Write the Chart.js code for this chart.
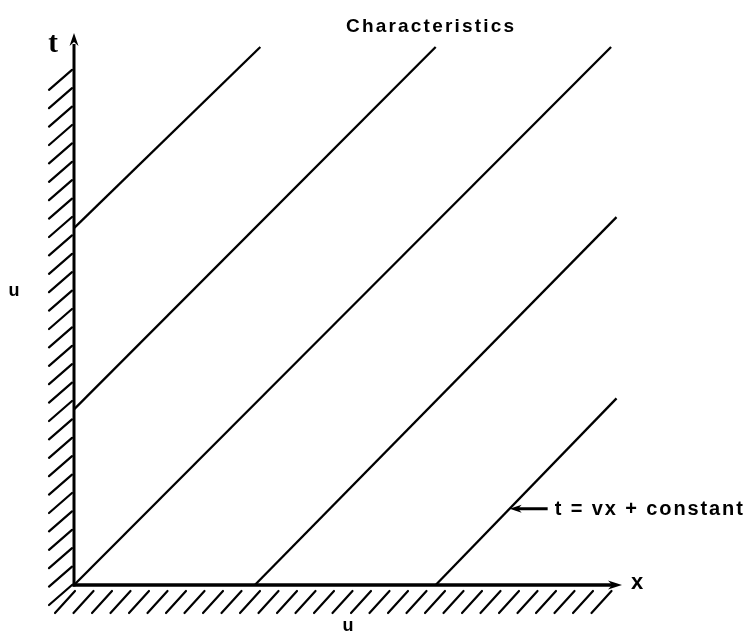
<!DOCTYPE html>
<html>
<head>
<meta charset="utf-8">
<title>Characteristics</title>
<script src="https://cdn.jsdelivr.net/npm/chart.js@4/dist/chart.umd.min.js"></script>
<style>
  html, body { margin: 0; padding: 0; background: #fff; }
  #wrap { width: 751px; height: 634px; }
</style>
</head>
<body>
<div id="wrap"><canvas id="c" width="751" height="634"></canvas></div>
<script>
// Characteristic lines t = v x + constant, each given by its two end points (x, t).
const lineNames = ['c1', 'c2', 'c3', 'c4', 'c5'];
const startX = [0, 0, 0, 3.3, 6.6];
const startT = [6.5, 3.2, 0, 0, 0];
const endX   = [3.4, 6.6, 9.8, 9.9, 9.9];
const endT   = [9.8, 9.8, 9.8, 6.7, 3.4];

// Axis extents (data units)
const xMax = 10;
const tMax = 10;

// Texts
const titleText = 'Characteristics';
const tLabel = 't';
const xLabel = 'x';
const sideLabel = 'u';
const bottomLabel = 'u';
const noteText = 't = vx + constant';
const noteLine = 4;      // index of the characteristic the note points at
const noteAtX = 7.95;    // where along x the note arrow touches it

const datasets = lineNames.map((name, i) => ({
  label: name,
  data: [{ x: startX[i], y: startT[i] }, { x: endX[i], y: endT[i] }],
  showLine: true,
  borderColor: '#000',
  borderWidth: 2.3,
  pointRadius: 0,
  tension: 0,
  clip: false
}));

function arrowHead(ctx, tipX, tipY, dirX, dirY, len, half) {
  const px = -dirY, py = dirX;
  ctx.beginPath();
  ctx.moveTo(tipX, tipY);
  ctx.lineTo(tipX - dirX * len + px * half, tipY - dirY * len + py * half);
  ctx.lineTo(tipX - dirX * len * 0.7, tipY - dirY * len * 0.7);
  ctx.lineTo(tipX - dirX * len - px * half, tipY - dirY * len - py * half);
  ctx.closePath();
  ctx.fill();
}

function spacedText(ctx, text, x, y, spacing) {
  if ('letterSpacing' in ctx) {
    ctx.letterSpacing = spacing + 'px';
    ctx.fillText(text, x, y);
    ctx.letterSpacing = '0px';
  } else {
    let cx = x;
    for (const ch of text) {
      ctx.fillText(ch, cx, y);
      cx += ctx.measureText(ch).width + spacing;
    }
  }
}

const figureDecor = {
  id: 'figureDecor',
  afterDraw(chart) {
    const ctx = chart.ctx;
    const xs = chart.scales.x, ys = chart.scales.y;
    const ox = xs.getPixelForValue(0), oy = ys.getPixelForValue(0);
    const xEnd = xs.getPixelForValue(xMax), tEnd = ys.getPixelForValue(tMax);
    ctx.save();
    ctx.strokeStyle = '#000';
    ctx.fillStyle = '#000';
    ctx.lineCap = 'round';

    // wall hatching left of the t axis
    ctx.lineWidth = 2.2;
    ctx.beginPath();
    for (let y = oy; y >= tEnd + 18; y -= 18.4) {
      ctx.moveTo(ox - 25, y + 20);
      ctx.lineTo(ox - 2, y);
    }
    // hatching below the x axis
    for (let x = ox - 19; x <= xEnd - 30; x += 18.5) {
      ctx.moveTo(x, oy + 28);
      ctx.lineTo(x + 20, oy + 6);
    }
    ctx.stroke();

    // axes
    ctx.lineCap = 'butt';
    ctx.lineWidth = 3;
    ctx.beginPath();
    ctx.moveTo(ox, oy + 1.5);
    ctx.lineTo(ox, tEnd + 8);
    ctx.stroke();
    ctx.lineWidth = 3.5;
    ctx.beginPath();
    ctx.moveTo(ox - 1.5, oy);
    ctx.lineTo(xEnd - 8, oy);
    ctx.stroke();
    arrowHead(ctx, ox, tEnd - 3, 0, -1, 13, 4.5);
    arrowHead(ctx, xEnd, oy, 1, 0, 14, 4.5);

    // axis letters
    ctx.textBaseline = 'middle';
    ctx.textAlign = 'center';
    ctx.font = 'bold 29px "Liberation Serif", "DejaVu Serif", serif';
    ctx.fillText(tLabel, ox - 21, tEnd + 9);
    ctx.font = 'bold 22px "Liberation Sans", Arial, sans-serif';
    ctx.fillText(xLabel, xEnd + 15, oy - 2);
    ctx.font = 'bold 18px "Liberation Sans", Arial, sans-serif';
    ctx.fillText(sideLabel, 14, ys.getPixelForValue(5.35));
    ctx.fillText(bottomLabel, xs.getPixelForValue(5.0), oy + 41);

    // title
    ctx.textAlign = 'left';
    ctx.font = 'bold 19px "Liberation Sans", Arial, sans-serif';
    spacedText(ctx, titleText, 346, 27, 2.2);

    // note with arrow pointing at one characteristic
    const k = noteLine;
    const slope = (endT[k] - startT[k]) / (endX[k] - startX[k]);
    const tAt = startT[k] + slope * (noteAtX - startX[k]);
    const ax = xs.getPixelForValue(noteAtX), ay = ys.getPixelForValue(tAt);
    ctx.lineWidth = 3;
    ctx.beginPath();
    ctx.moveTo(ax + 6, ay);
    ctx.lineTo(ax + 38, ay);
    ctx.stroke();
    arrowHead(ctx, ax, ay, -1, 0, 12, 4);
    ctx.font = 'bold 20px "Liberation Sans", Arial, sans-serif';
    spacedText(ctx, noteText, ax + 45, ay + 1, 1.9);

    ctx.restore();
  }
};

new Chart(document.getElementById('c'), {
  type: 'scatter',
  data: { datasets },
  options: {
    responsive: false,
    animation: false,
    devicePixelRatio: 1,
    layout: { padding: { left: 74, top: 36, right: 129, bottom: 49 } },
    plugins: { legend: { display: false }, tooltip: { enabled: false }, title: { display: false } },
    scales: {
      x: { type: 'linear', min: 0, max: xMax, display: false },
      y: { type: 'linear', min: 0, max: tMax, display: false }
    }
  },
  plugins: [figureDecor]
});
</script>
</body>
</html>
